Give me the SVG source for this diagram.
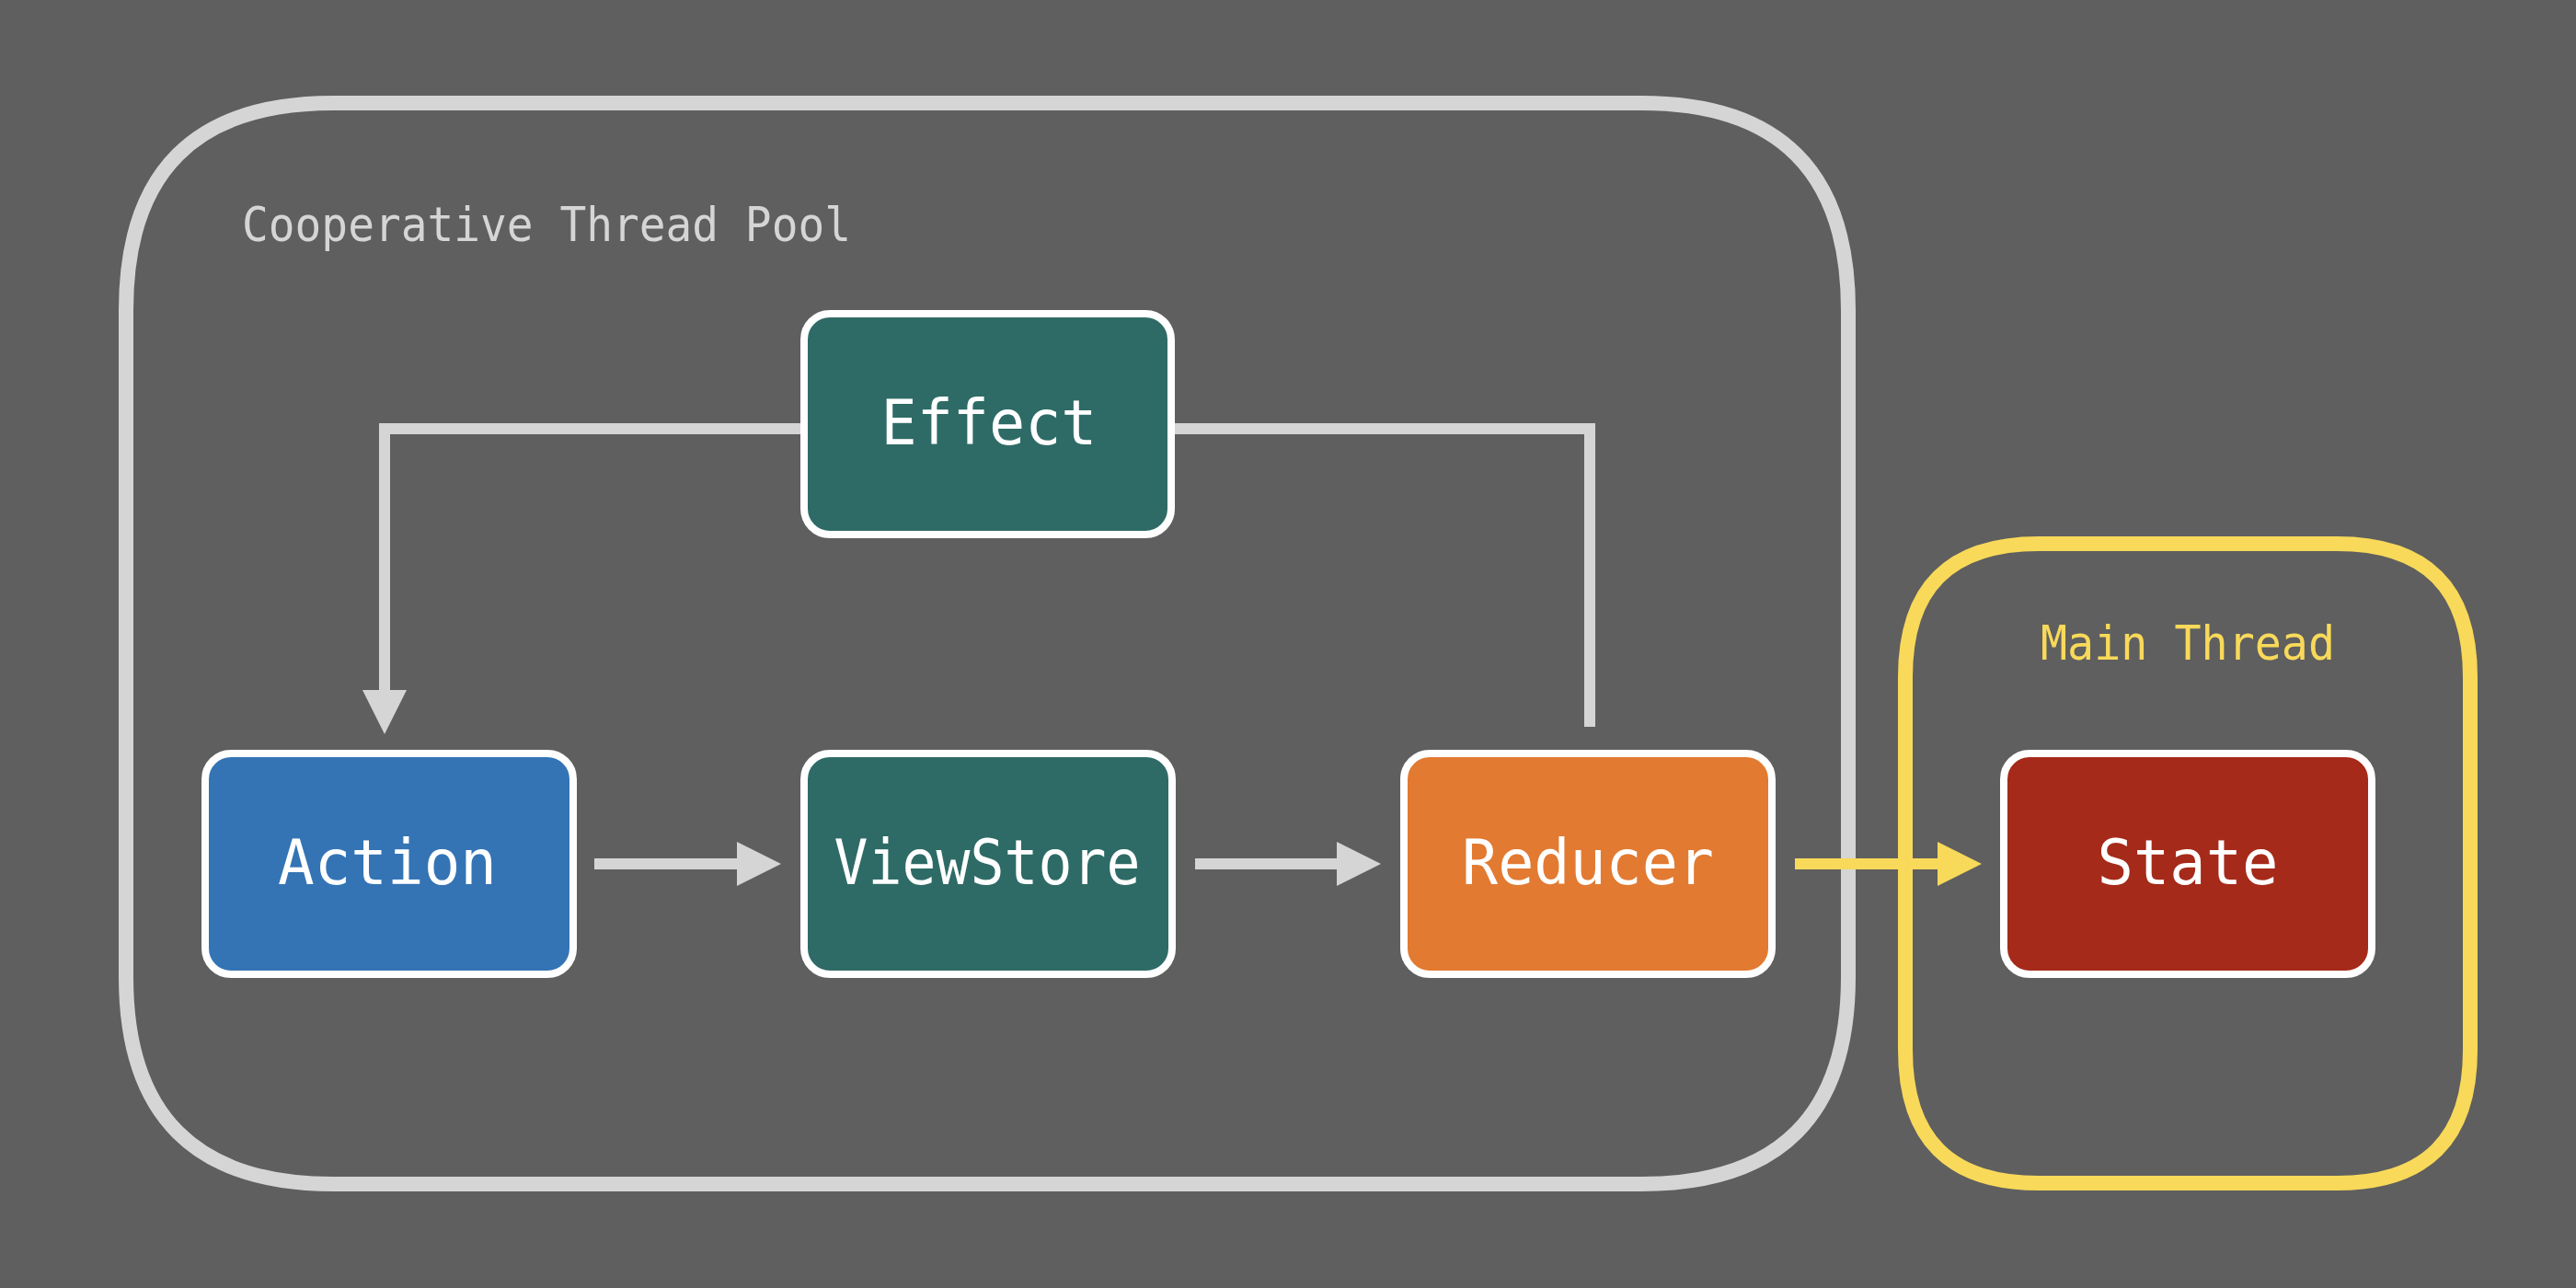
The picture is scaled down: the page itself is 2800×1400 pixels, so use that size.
<svg xmlns="http://www.w3.org/2000/svg" width="2800" height="1400" viewBox="0 0 2800 1400">
<defs>
<style>
.node rect{stroke:#ffffff;stroke-width:8}
.lbl{font-family:"DejaVu Sans Mono","Liberation Mono",monospace;font-size:68px;fill:#ffffff;text-anchor:middle}
.gline{fill:none;stroke:#d5d5d5;stroke-width:12;stroke-linejoin:miter}
.yline{fill:none;stroke:#f8d95a;stroke-width:12}
.title{font-family:"DejaVu Sans Mono","Liberation Mono",monospace;font-size:52px}
</style>
<marker id="ag" markerUnits="userSpaceOnUse" markerWidth="48" markerHeight="48" refX="0" refY="24" orient="auto" viewBox="0 0 48 48">
<path d="M0,0 L48,24 L0,48 Z" fill="#d5d5d5"/>
</marker>
<marker id="ay" markerUnits="userSpaceOnUse" markerWidth="48" markerHeight="48" refX="0" refY="24" orient="auto" viewBox="0 0 48 48">
<path d="M0,0 L48,24 L0,48 Z" fill="#f8d95a"/>
</marker>
</defs>
<rect width="2800" height="1400" fill="#5f5f5f"/>
<g id="pool">
<path d="M362,112 H1784 C1934,112 2009,187 2009,337 V1062 C2009,1212 1934,1287 1784,1287 H362 C212,1287 137,1212 137,1062 V337 C137,187 212,112 362,112 Z" fill="none" stroke="#d5d5d5" stroke-width="16"/>
<text class="title" x="263" y="262" fill="#d5d5d5" textLength="662" lengthAdjust="spacingAndGlyphs">Cooperative Thread Pool</text>
</g>
<g id="main-thread">
<path d="M2216,591 H2540 C2637,591 2685,639 2685,736 V1141 C2685,1238 2637,1286 2540,1286 H2216 C2119,1286 2071,1238 2071,1141 V736 C2071,639 2119,591 2216,591 Z" fill="none" stroke="#f8d95a" stroke-width="16"/>
<text class="title" x="2378" y="717" fill="#f8d95a" text-anchor="middle" textLength="320" lengthAdjust="spacingAndGlyphs">Main Thread</text>
</g>
<g id="connectors">
<path class="gline" d="M874,466 H418 V750" marker-end="url(#ag)"/>
<path class="gline" d="M1273,466 H1728 V790"/>
<path class="gline" d="M646,939 H801" marker-end="url(#ag)"/>
<path class="gline" d="M1299,939 H1453" marker-end="url(#ag)"/>
<path class="yline" d="M1951,939 H2106" marker-end="url(#ay)"/>
</g>
<g id="effect" class="node">
<rect x="874" y="341" width="399" height="240" rx="28" fill="#2e6b66"/>
<text class="lbl" x="1075" y="483" textLength="235" lengthAdjust="spacingAndGlyphs">Effect</text>
</g>
<g id="action" class="node">
<rect x="223" y="819" width="400" height="240" rx="28" fill="#3474b5"/>
<text class="lbl" x="421" y="961" textLength="238" lengthAdjust="spacingAndGlyphs">Action</text>
</g>
<g id="viewstore" class="node">
<rect x="874" y="819" width="400" height="240" rx="28" fill="#2e6b66"/>
<text class="lbl" x="1073" y="961" textLength="333" lengthAdjust="spacingAndGlyphs">ViewStore</text>
</g>
<g id="reducer" class="node">
<rect x="1526" y="819" width="400" height="240" rx="28" fill="#e27a31"/>
<text class="lbl" x="1726" y="961" textLength="274" lengthAdjust="spacingAndGlyphs">Reducer</text>
</g>
<g id="state" class="node">
<rect x="2178" y="819" width="400" height="240" rx="28" fill="#a52a1a"/>
<text class="lbl" x="2378" y="961" textLength="197" lengthAdjust="spacingAndGlyphs">State</text>
</g>
</svg>
